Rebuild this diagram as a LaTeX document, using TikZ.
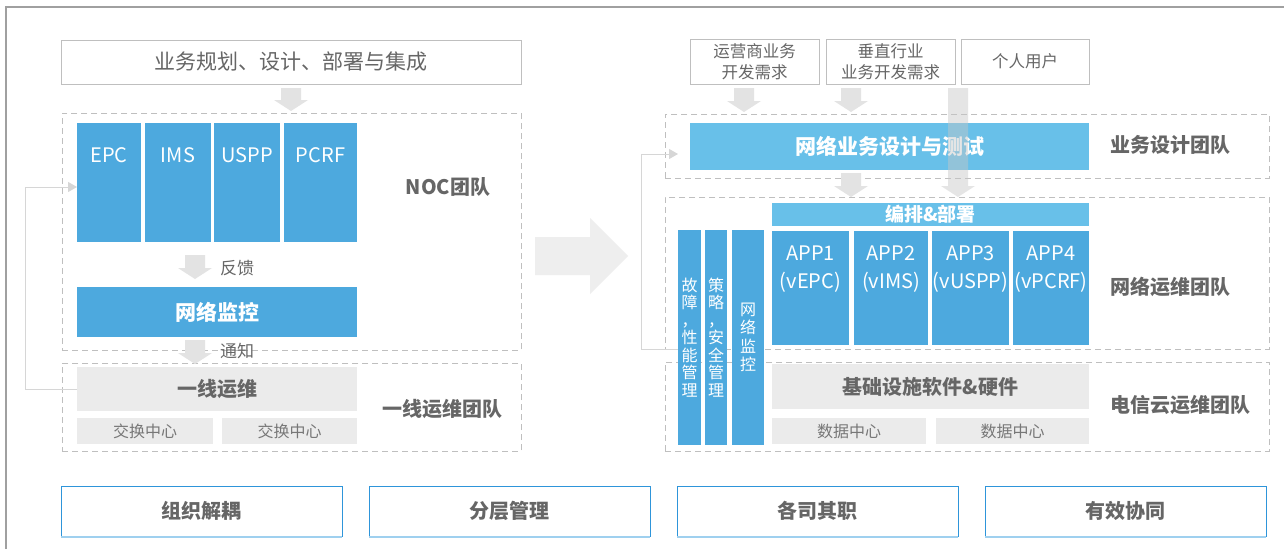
\documentclass[tikz,border=0pt]{standalone}
\usepackage{fontspec}
\setmainfont{Noto Sans CJK SC}
\usetikzlibrary{arrows.meta}
\definecolor{bblue}{HTML}{4DA9DE}
\definecolor{lblue}{HTML}{68C0E9}
\definecolor{gfill}{HTML}{EBEBEB}
\definecolor{afill}{HTML}{E3E3E3}
\definecolor{mfill}{HTML}{EEEEEE}
\definecolor{tgray}{HTML}{666666}
\definecolor{sgray}{HTML}{777777}
\definecolor{dgray}{HTML}{BFBFBF}
\definecolor{lgray}{HTML}{D6D6D6}
\definecolor{framec}{HTML}{A0A0A0}
\definecolor{bline}{HTML}{2E95DA}
\definecolor{blinel}{HTML}{9FD0EF}
\newcommand{\fsz}[2]{\fontsize{#1}{#2}\selectfont}
\newcommand{\boxat}[7]{\node[#1, minimum width={#4-#2}, minimum height={#5-#3}] (#6) at ({(#2+#4)/2},{(#3+#5)/2}) {#7};}
\newcommand{\blockdn}[3]{\fill[afill] ({#1-10},#2) -- ({#1+10},#2) -- ({#1+10},{#3-11}) -- ({#1+17},{#3-11}) -- (#1,#3) -- ({#1-17},{#3-11}) -- ({#1-10},{#3-11}) -- cycle;}
\begin{document}
\begin{tikzpicture}[x={(1pt,0)}, y={(0,-1pt)},
  every node/.style={inner sep=0pt, outer sep=0pt},
  outbox/.style={draw=dgray, line width=1pt, fill=white, text=tgray, font=\fsz{21}{24}},
  reqbox/.style={draw=dgray, line width=1pt, fill=white, text=tgray, font=\fsz{16.5}{21}, align=center},
  dbox/.style={draw=dgray, line width=1pt, dash pattern=on 6pt off 4pt},
  bbox/.style={fill=bblue, text=white},
  btext/.style={text=white, font=\fsz{20}{28}, align=center, anchor=center},
  lbbox/.style={fill=lblue, text=white, font=\bfseries\fsz{20}{24}},
  gbox/.style={fill=gfill, text=tgray, font=\bfseries\fsz{20}{24}},
  sbox/.style={fill=gfill, text=sgray, font=\fsz{16}{20}},
  team/.style={text=tgray, font=\bfseries\fsz{20}{24}},
  note/.style={text=tgray, font=\fsz{17}{20}},
  vbar/.style={fill=bblue, text=white, font=\fsz{16}{17.5}, align=center},
  loopline/.style={draw=lgray, line width=1pt, -{Triangle[length=9pt,width=10pt]}},
  keybox/.style={draw=bline, line width=0.8pt, fill=white, text=tgray, font=\bfseries\fsz{20}{24}}]
\useasboundingbox (0,0) rectangle (1284,549);
\fill[white] (0,0) rectangle (1284,549);
% outer frame
\draw[framec, line width=1.2pt] (6,549) -- (6,7) -- (1284,7);

% ---------------- left panel ----------------
\boxat{dbox}{62}{113}{521}{350}{noc}{}
\boxat{dbox}{62}{363}{521}{451}{yxd}{}
\boxat{outbox}{61}{40}{521}{84}{plan}{业务规划、设计、部署与集成}
\blockdn{291}{88}{111}
\boxat{bbox, label={[btext, yshift=-32pt]north:EPC}}{77}{123}{141}{242}{epc}{}
\boxat{bbox, label={[btext, yshift=-32pt]north:IMS}}{145}{123}{211}{242}{ims}{}
\boxat{bbox, label={[btext, yshift=-32pt]north:USPP}}{214}{123}{280}{242}{uspp}{}
\boxat{bbox, label={[btext, yshift=-32pt]north:PCRF}}{284}{123}{357}{242}{pcrf}{}
\node[team] (noct) at (448,187) {NOC团队};
\blockdn{195}{255}{279}
\node[note] (fk) at (237,268) {反馈};
\boxat{bbox, font=\bfseries\fsz{21}{24}}{77}{287}{357}{337}{jk}{网络监控}
\blockdn{195}{340}{364}
\node[note] (tz) at (237,351) {通知};
\boxat{gbox}{77}{367}{357}{411}{yx}{一线运维}
\boxat{sbox}{77}{418}{213}{444}{jh1}{交换中心}
\boxat{sbox}{222}{418}{357}{444}{jh2}{交换中心}
\node[team] (yxt) at (442,409) {一线运维团队};
\coordinate (ll) at (25,187);
\draw[loopline] (yx.west) -| (ll) -- (ll -| epc.west);

% ---------------- middle arrow ----------------
\fill[mfill] (535,237) -- (590,237) -- (590,218) -- (628,256) -- (590,294) -- (590,275) -- (535,275) -- cycle;

% ---------------- right panel ----------------
\boxat{dbox}{665}{114}{1269}{178}{ywd}{}
\boxat{dbox}{665}{197}{1269}{349}{wld}{}
\boxat{dbox}{665}{362}{1269}{451}{dxd}{}
\boxat{reqbox}{690}{39}{819}{84}{r1}{运营商业务\\开发需求}
\boxat{reqbox}{826}{39}{955}{84}{r2}{垂直行业\\业务开发需求}
\boxat{reqbox}{961}{39}{1089}{84}{r3}{个人用户}
\blockdn{744}{88}{112}
\blockdn{851}{88}{112}
\boxat{lbbox, font=\bfseries\fsz{21}{24}}{690}{123}{1089}{170}{wlsj}{网络业务设计与测试}
\blockdn{851}{173}{197}
\begin{scope}[fill opacity=0.45]
\fill[black!22] (948,88) -- (968,88) -- (968,186) -- (975,186) -- (958,197) -- (941,186) -- (948,186) -- cycle;
\end{scope}
\node[team] (ywt) at (1170,145) {业务设计团队};

\boxat{lbbox, font=\bfseries\fsz{19}{22}}{772}{203}{1089}{226}{bp}{编排\&部署}
\boxat{bbox, label={[btext, yshift=-38pt]north:APP1\\(vEPC)}}{772}{231}{849}{345}{a1}{}
\boxat{bbox, label={[btext, yshift=-38pt]north:APP2\\(vIMS)}}{854}{231}{928}{345}{a2}{}
\boxat{bbox, label={[btext, yshift=-38pt]north:APP3\\(vUSPP)}}{932}{231}{1009}{345}{a3}{}
\boxat{bbox, label={[btext, yshift=-38pt]north:APP4\\(vPCRF)}}{1013}{231}{1089}{345}{a4}{}
\node[team] (wlt) at (1170,287) {网络运维团队};

\boxat{gbox}{772}{364}{1089}{409}{jc}{基础设施软件\&硬件}
\boxat{sbox}{772}{418}{926}{444}{d1}{数据中心}
\boxat{sbox}{936}{418}{1089}{444}{d2}{数据中心}
\node[team] (dxt) at (1180,405) {电信云运维团队};

\coordinate (rb) at (678,349);
\coordinate (rl) at (641,154);
\coordinate (rt) at (678,154);
\draw[loopline] (rb) -| (rl) -- (rt);

\boxat{vbar}{678}{230}{701}{445}{gz}{故\\障\\，\\性\\能\\管\\理}
\boxat{vbar}{705}{230}{727}{445}{cl}{策\\略\\，\\安\\全\\管\\理}
\boxat{vbar, font=\fsz{16}{18.5}}{732}{230}{764}{445}{wj}{网\\络\\监\\控}

% ---------------- bottom keys ----------------
\boxat{keybox}{61}{486}{342}{536}{k1}{组织解耦}
\boxat{keybox}{369}{486}{650}{536}{k2}{分层管理}
\boxat{keybox}{677}{486}{958}{536}{k3}{各司其职}
\boxat{keybox}{985}{486}{1266}{536}{k4}{有效协同}
\foreach \k in {k1,k2,k3,k4}{
  \draw[blinel, line width=2pt] ([yshift=-1pt]\k.south west) -- ([yshift=-1pt]\k.south east);
}
\end{tikzpicture}
\end{document}
